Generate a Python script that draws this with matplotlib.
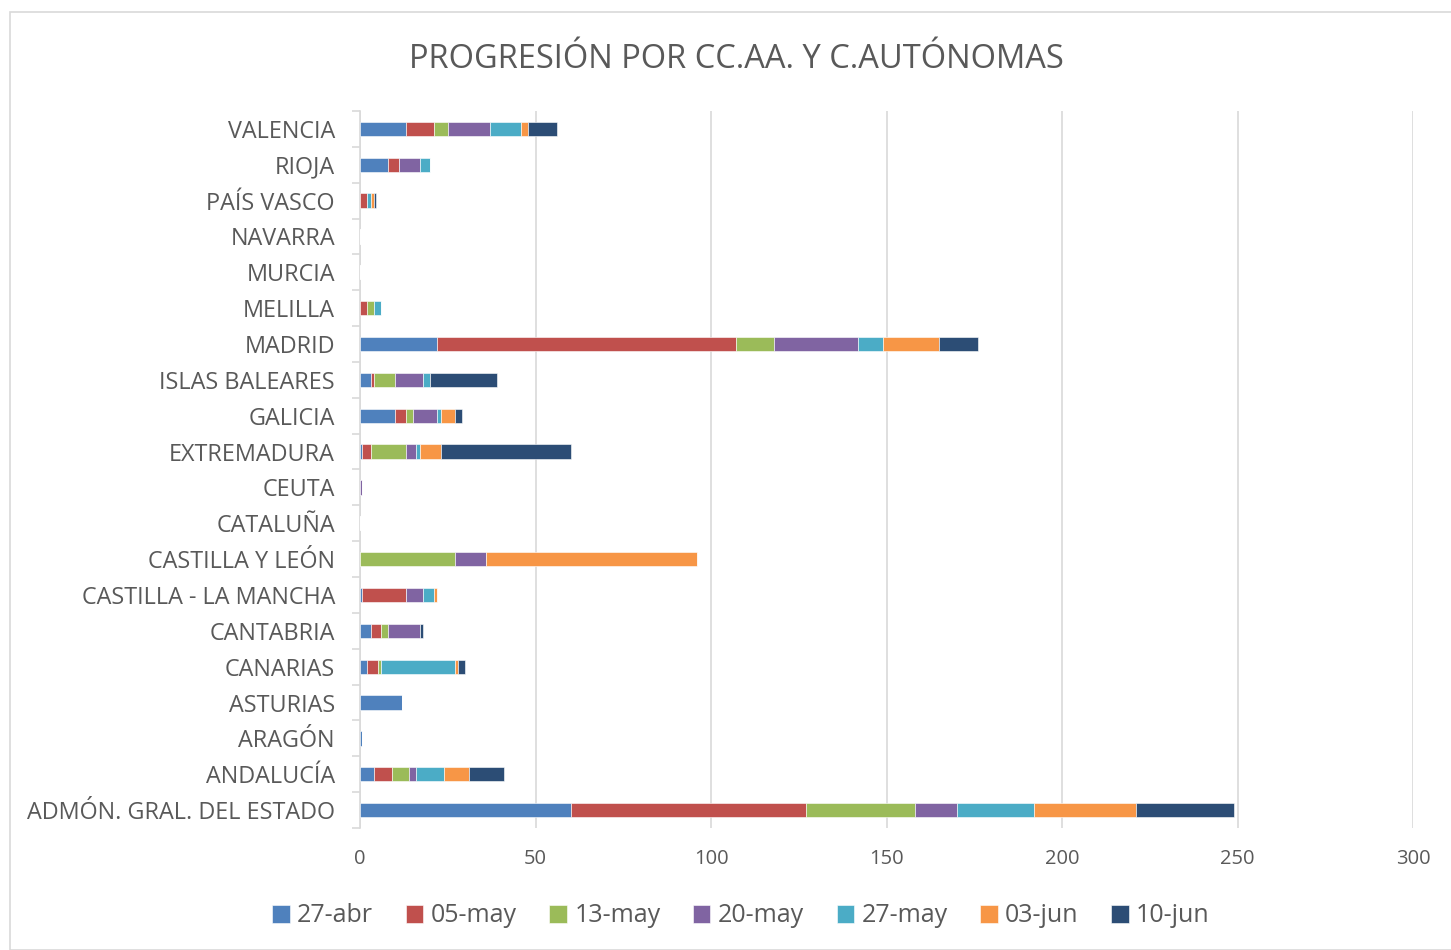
import matplotlib
matplotlib.use("Agg")
import matplotlib.pyplot as plt
from matplotlib.patches import Rectangle
import numpy as np

plt.rcParams['font.family'] = ['Open Sans', 'DejaVu Sans']

categories = ["ADMÓN. GRAL. DEL ESTADO", "ANDALUCÍA", "ARAGÓN", "ASTURIAS", "CANARIAS",
              "CANTABRIA", "CASTILLA - LA MANCHA", "CASTILLA Y LEÓN", "CATALUÑA", "CEUTA",
              "EXTREMADURA", "GALICIA", "ISLAS BALEARES", "MADRID", "MELILLA", "MURCIA",
              "NAVARRA", "PAÍS VASCO", "RIOJA", "VALENCIA"]

series_names = ["27-abr", "05-may", "13-may", "20-may", "27-may", "03-jun", "10-jun"]

s_27abr = [60, 4, 0.5, 12, 2, 3, 0.5, 0, 0, 0, 0.5, 10, 3, 22, 0, 0, 0, 0, 8, 13]
s_05may = [67, 5, 0, 0, 3, 3, 12.5, 0, 0, 0, 2.5, 3, 1, 85, 2, 0, 0, 2, 3, 8]
s_13may = [31, 5, 0, 0, 1, 2, 0, 27, 0, 0, 10, 2, 6, 11, 2, 0, 0, 0, 0, 4]
s_20may = [12, 2, 0, 0, 0, 9, 5, 9, 0, 0.5, 3, 7, 8, 24, 0, 0, 0, 0, 6, 12]
s_27may = [22, 8, 0, 0, 21, 0, 3, 0, 0, 0, 1, 1, 2, 7, 2, 0, 0, 1, 3, 9]
s_03jun = [29, 7, 0, 0, 1, 0, 1, 60, 0, 0, 6, 4, 0, 16, 0, 0, 0, 1, 0, 2]
s_10jun = [28, 10, 0, 0, 2, 1, 0, 0, 0, 0, 37, 2, 19, 11, 0, 0, 0, 0.6, 0, 8]

series = [s_27abr, s_05may, s_13may, s_20may, s_27may, s_03jun, s_10jun]
colors = ["#4F81BD", "#C0504D", "#9BBB59", "#8064A2", "#4BACC6", "#F79646", "#2C4D75"]

text_color = "#595959"
grid_color = "#D9D9D9"

fig = plt.figure(figsize=(14.51, 9.5), dpi=100)
fig.patches.append(Rectangle((10/1451, 0), 1.0, 1 - 12/950, transform=fig.transFigure,
                             fill=False, edgecolor=grid_color, linewidth=1.2, zorder=0))

ax = fig.add_axes([360/1451, 1 - 828/950, (1413 - 360)/1451, (828 - 111)/950])

y = np.arange(len(categories))
left = np.zeros(len(categories))
handles = []
for name, vals, col in zip(series_names, series, colors):
    vals = np.array(vals, dtype=float)
    b = ax.barh(y, vals, left=left, height=0.4, color=col, edgecolor='white',
                linewidth=0.4, label=name, zorder=3)
    handles.append(b)
    left += vals

ax.set_xlim(0, 300)
ax.set_ylim(-0.5, len(categories) - 0.5)
ax.set_xticks(np.arange(0, 301, 50))
ax.set_yticks(y)
ax.set_yticklabels(categories)
ax.set_yticks(np.arange(-0.5, len(categories), 1.0), minor=True)

ax.grid(axis='x', color=grid_color, linewidth=1.2, zorder=0)
for sp in ['top', 'right', 'bottom']:
    ax.spines[sp].set_visible(False)
ax.spines['left'].set_color(grid_color)
ax.spines['left'].set_linewidth(1.2)

ax.tick_params(axis='y', which='major', length=0, pad=18, labelsize=16.8, labelcolor=text_color)
ax.tick_params(axis='y', which='minor', length=6, color=grid_color, width=1.2)
ax.tick_params(axis='x', length=0, pad=15, labelsize=14.5, labelcolor=text_color)

fig.text(736/1451, 1 - 59/950, "PROGRESIÓN POR CC.AA. Y C.AUTÓNOMAS", ha='center', va='center',
         fontsize=23.5, color=text_color)

fig.legend(handles=handles, labels=series_names, loc='center', ncol=7,
           bbox_to_anchor=(741/1451, 1 - 916/950), frameon=False, fontsize=18,
           handlelength=0.7, handleheight=0.7, handletextpad=0.3, columnspacing=1.3,
           labelcolor=text_color)

fig.savefig("out.png", dpi=100)
